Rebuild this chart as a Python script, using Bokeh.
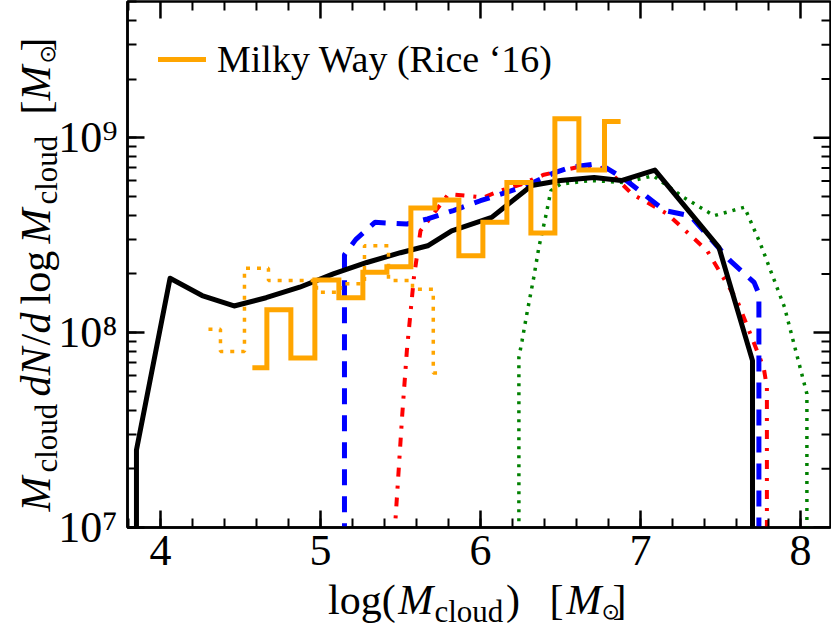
import math
from bokeh.plotting import figure
from bokeh.models import (Range1d, SingleIntervalTicker, LogTicker,
                          Legend, LegendItem, CustomJSTickFormatter)
from bokeh.core.properties import value
from bokeh.embed import file_html
from bokeh.resources import INLINE

FONT = "Liberation Serif"

# ---------------- data ----------------
# black solid
black_x = [3.85, 3.85, 4.06, 4.26, 4.46, 4.66, 4.87, 5.08, 5.29, 5.50, 5.67, 5.82, 6.07,
           6.32, 6.50, 6.71, 6.88, 7.09, 7.49, 7.70, 7.70]
black_y = [1e5, 2.5e7, 1.90e8, 1.55e8, 1.37e8, 1.51e8, 1.71e8, 2.00e8, 2.29e8, 2.57e8,
           2.79e8, 3.33e8, 3.90e8, 5.69e8, 6.03e8, 6.25e8, 6.03e8, 6.82e8, 2.74e8, 7.18e7, 1e5]

# blue dashed
blue_x = [5.15, 5.15, 5.22, 5.34, 5.54, 5.67, 5.83, 6.00, 6.29, 6.46, 6.56, 6.74, 6.90,
          7.15, 7.31, 7.56, 7.71, 7.74, 7.74]
blue_y = [1e5, 2.51e8, 3.0e8, 3.68e8, 3.61e8, 3.83e8, 4.23e8, 4.75e8, 5.68e8, 6.61e8,
          7.05e8, 7.38e8, 6.14e8, 4.23e8, 3.98e8, 2.34e8, 1.81e8, 1.58e8, 1e5]

# red dash-dot
red_x = [5.462, 5.51, 5.54, 5.57, 5.583, 5.625, 5.80, 6.02, 6.125, 6.25, 6.396, 6.646,
         6.79, 6.948, 7.167, 7.417, 7.604, 7.77, 7.79, 7.79]
red_y = [9.0e6, 3.68e7, 8.09e7, 1.46e8, 1.89e8, 3.33e8, 5.14e8, 4.94e8, 5.35e8, 5.75e8,
         6.46e8, 7.18e8, 6.90e8, 5.14e8, 4.07e8, 2.63e8, 1.46e8, 6.61e7, 5.25e7, 1e5]

# green dotted
green_x = [6.24, 6.24, 6.26, 6.29, 6.333, 6.365, 6.406, 6.44, 6.50, 6.69, 6.90, 7.08,
           7.27, 7.46, 7.65, 7.75, 7.90, 8.04, 8.04]
green_y = [1e5, 7.46e7, 9.1e7, 1.25e8, 1.92e8, 2.74e8, 3.89e8, 5.35e8, 5.78e8, 6.03e8,
           5.89e8, 6.38e8, 4.94e8, 3.98e8, 4.40e8, 2.85e8, 1.35e8, 4.85e7, 1e5]

# Milky Way (Rice '16) histogram, solid
mw_x = [4.59, 4.74, 4.89, 5.04, 5.19, 5.34, 5.49, 5.64, 5.79, 5.94, 6.09, 6.24, 6.39,
        6.54, 6.69, 6.86]
mw_y = [6.6e7, 1.31e8, 7.4e7, 1.86e8, 1.51e8, 2.04e8, 2.18e8, 4.36e8, 4.79e8, 2.48e8,
        3.68e8, 5.89e8, 3.24e8, 1.25e9, 6.82e8, 1.21e9]

# Milky Way histogram, dotted
mwd_x = [4.30, 4.45, 4.60, 4.75, 4.90, 5.05, 5.20, 5.35, 5.50, 5.65, 5.76]
mwd_y = [1.04e8, 8.0e7, 2.14e8, 1.85e8, 1.85e8, 1.61e8, 1.78e8, 2.79e8, 1.85e8, 1.67e8, 6.2e7]

legend_label = "Milky Way (Rice \u201816)"
ytick_labels = ["10\u2077", "10\u2078", "10\u2079"]
ytick_values = [1e7, 1e8, 1e9]
xtick_values = [4, 5, 6, 7, 8]

# ---------------- figure ----------------
W, H = 831, 634
ML, MR, MT, MB = 127, 1, 1, 107
FW, FH = W - ML - MR, H - MT - MB
X0, X1 = 3.794, 8.1875
Y0, Y1 = 1e7, 5e9

p = figure(width=W, height=H, x_range=Range1d(X0, X1), y_range=Range1d(Y0, Y1),
           y_axis_type="log", output_backend="svg", toolbar_location=None,
           min_border_left=ML, min_border_right=MR, min_border_top=MT, min_border_bottom=MB)
p.grid.visible = False
p.outline_line_color = "black"
p.outline_line_width = 2.5
p.background_fill_color = "white"
p.border_fill_color = "white"

MAJ, MIN = 17, 9


def style_axis(ax):
    ax.axis_line_width = 2.5
    ax.axis_line_color = "black"
    ax.major_tick_in = MAJ
    ax.major_tick_out = 0
    ax.minor_tick_in = MIN
    ax.minor_tick_out = 0
    ax.major_tick_line_width = 2.5
    ax.minor_tick_line_width = 2
    ax.major_tick_line_color = "black"
    ax.minor_tick_line_color = "black"
    ax.major_label_text_font = FONT
    ax.major_label_text_color = "black"
    ax.major_label_text_font_size = "44px"


xb = p.xaxis[0]
xb.ticker = SingleIntervalTicker(interval=1, num_minor_ticks=5)
style_axis(xb)
xb.major_label_standoff = 8

yl = p.yaxis[0]
yl.ticker = LogTicker(num_minor_ticks=10)
yl.formatter = CustomJSTickFormatter(
    args=dict(vals=ytick_values, labs=ytick_labels),
    code="""
    for (let i = 0; i < vals.length; i++) {
        if (Math.abs(Math.log10(tick) - Math.log10(vals[i])) < 1e-6) return labs[i];
    }
    return "";
    """)
style_axis(yl)
yl.major_label_standoff = 10

# ---- mirrored ticks on the top and right edges (drawn from the tick values) ----
dx_per_px = (X1 - X0) / FW
dlog_per_px = math.log10(Y1 / Y0) / FH

top_major = xtick_values
top_minor = [t + k * 0.2 for t in [3] + xtick_values for k in range(1, 5)]
top_minor = [t for t in top_minor if X0 < t < X1]
yt_maj = Y1 / 10 ** (MAJ * dlog_per_px)
yt_min = Y1 / 10 ** (MIN * dlog_per_px)
p.segment(x0=top_major, x1=top_major, y0=[Y1] * len(top_major), y1=[yt_maj] * len(top_major),
          line_color="black", line_width=2.5)
p.segment(x0=top_minor, x1=top_minor, y0=[Y1] * len(top_minor), y1=[yt_min] * len(top_minor),
          line_color="black", line_width=2)

right_major = ytick_values
right_minor = [m * d for d in ytick_values for m in range(2, 10) if m * d < Y1]
xr_maj = X1 - MAJ * dx_per_px
xr_min = X1 - MIN * dx_per_px
p.segment(x0=[X1] * len(right_major), x1=[xr_maj] * len(right_major), y0=right_major,
          y1=right_major, line_color="black", line_width=2.5)
p.segment(x0=[X1] * len(right_minor), x1=[xr_min] * len(right_minor), y0=right_minor,
          y1=right_minor, line_color="black", line_width=2)

# ---------------- data glyphs ----------------
p.line(green_x, green_y, line_color="#008000", line_width=3.5, line_dash="3 6")
p.line(red_x, red_y, line_color="#ff0000", line_width=4, line_dash="9 9 3 9")
p.line(blue_x, blue_y, line_color="#0000ff", line_width=5, line_dash="16 11")
p.line(black_x, black_y, line_color="black", line_width=5, line_join="round")
p.step(mwd_x, mwd_y, mode="center", line_color="#ffa500", line_width=3.5, line_dash="4 7")
mw = p.step(mw_x, mw_y, mode="center", line_color="#ffa500", line_width=5,
            line_join="miter", line_cap="square")

legend = Legend(items=[LegendItem(label=legend_label, renderers=[mw])],
                location="top_left", border_line_color=None, background_fill_alpha=0,
                label_text_font=FONT, label_text_font_size="38px", label_text_color="black",
                glyph_width=48, glyph_height=54, label_height=54, label_standoff=11,
                padding=0, margin=31, spacing=0)
p.add_layout(legend)

# ---------------- axis labels built from pieces ----------------
# anchored at the frame's bottom-left corner (X0, Y0); offsets in screen pixels.
# text is vertically centred on its anchor; MID converts a baseline position to it.
MID = 0.34


def piece(text, xo, yo, size, italic=False, angle=0.0, font=FONT):
    p.text(x=[X0], y=[Y0], text=[text], x_offset=xo, y_offset=yo, angle=angle,
           text_font=value(font), text_font_size=f"{size}px",
           text_font_style="italic" if italic else "normal",
           text_color="black", text_align="left", text_baseline="middle",
           level="overlay")


# x label: log(M_cloud)  [M_sun]   (baselines below the frame bottom)
BX, SX, OX = 87, 94.7, 91
piece("log(", 200.6, BX - MID * 42, 42)
piece("M", 270.7, BX - MID * 42, 42, italic=True)
piece("cloud", 307, SX - MID * 31, 31)
piece(")", 378.5, BX - MID * 42, 42)
piece("[", 422, BX - MID * 42, 42)
piece("M", 439, BX - MID * 42, 42, italic=True)
piece("\u2299", 474, OX - MID * 22, 22, font="DejaVu Sans")
piece("]", 485, BX - MID * 42, 42)

# y label: M_cloud dN/d log M_cloud  [M_sun]   (rotated, running upwards)
A = math.pi / 2
BM, BS, BO = -77, -70, -73      # baseline x offsets (main, subscript, sun symbol)
ylab = [("M", 42, True, BM, 39), ("cloud", 31, False, BS, 68), (None, 0, False, 0, 8),
        ("d", 42, True, BM, 21), ("N", 42, True, BM, 30), ("/", 42, False, BM, 12),
        ("d", 42, True, BM, 23), (None, 0, False, 0, 6), ("log", 42, False, BM, 54),
        (None, 0, False, 0, 7), ("M", 42, True, BM, 39), ("cloud", 31, False, BS, 68),
        (None, 0, False, 0, 22), ("[", 42, False, BM, 14), ("M", 42, True, BM, 37),
        ("\u2299", 22, False, BO, 12), ("]", 42, False, BM, 14)]
cum = 16
for txt, sz, it, bx, adv in ylab:
    if txt is not None:
        piece(txt, bx - MID * sz, -cum, sz, italic=it, angle=A,
              font="DejaVu Sans" if txt == "\u2299" else FONT)
    cum += adv

open("out.html", "w").write(file_html(p, INLINE))
